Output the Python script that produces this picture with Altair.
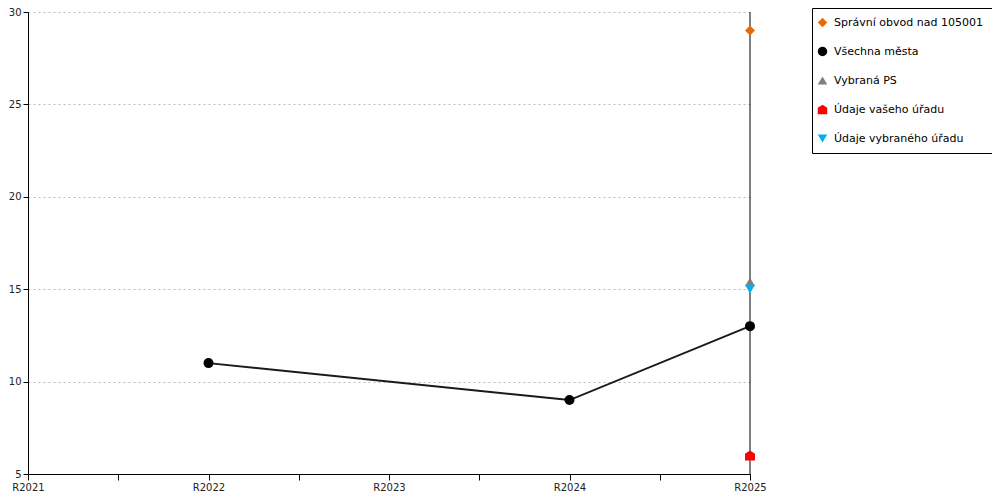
import altair as alt
import pandas as pd

# ---- data ----
series_names = [
    "Správní obvod nad 105001",
    "Všechna města",
    "Vybraná PS",
    "Údaje vašeho úřadu",
    "Údaje vybraného úřadu",
]
series_colors = ["#E36C0A", "#000000", "#808080", "#FF0000", "#00B0F0"]
house = "M0,-1L1,-0.35L1,1L-1,1L-1,-0.35Z"
series_shapes = ["diamond", "circle", "triangle-up", house, "triangle-down"]

mesta_years = [2022, 2024, 2025]
mesta_values = [11, 9, 13]

obvod_years = [2025]
obvod_values = [29]

ps_years = [2025]
ps_values = [15.4]

vas_years = [2025]
vas_values = [6]

vybrany_years = [2025]
vybrany_values = [15.0]

x_ticks = [2021, 2021.5, 2022, 2022.5, 2023, 2023.5, 2024, 2024.5, 2025]
y_ticks = [5, 10, 15, 20, 25, 30]
marker_year = [2025]

rows = []
for name, yrs, vals in [
    (series_names[0], obvod_years, obvod_values),
    (series_names[1], mesta_years, mesta_values),
    (series_names[2], ps_years, ps_values),
    (series_names[3], vas_years, vas_values),
    (series_names[4], vybrany_years, vybrany_values),
]:
    for yr, v in zip(yrs, vals):
        rows.append({"series": name, "year": yr, "value": v})
df = pd.DataFrame(rows)
line_df = df[df["series"] == series_names[1]]
rule_df = pd.DataFrame({"year": marker_year})

FONT = "DejaVu Sans"

x_scale = alt.Scale(domain=[2021, 2025], nice=False, zero=False)
x_enc = alt.X(
    "year:Q",
    scale=x_scale,
    axis=alt.Axis(
        values=x_ticks,
        labelExpr="datum.value % 1 == 0 ? 'R' + datum.value : ''",
        title=None,
        grid=False,
        domainColor="#000",
        tickColor="#000",
        tickSize=6,
        labelPadding=2,
        labelFont=FONT,
        labelFontSize=10,
        labelColor="#222",
        labelFlush=False,
        labelOverlap=False,
    ),
)
y_enc = alt.Y(
    "value:Q",
    scale=alt.Scale(domain=[5, 30], nice=False, zero=False),
    axis=alt.Axis(
        values=y_ticks,
        title=None,
        grid=True,
        gridColor="#bbbbbb",
        gridDash=[2, 3],
        domainColor="#000",
        tickColor="#000",
        tickSize=5,
        labelPadding=2,
        labelFont=FONT,
        labelFontSize=10,
        labelColor="#222",
    ),
)

rule = alt.Chart(rule_df).mark_rule(color="#000", strokeWidth=1).encode(
    x=alt.X("year:Q", scale=x_scale)
)

line = alt.Chart(line_df).mark_line(color="#1a1a1a", strokeWidth=2).encode(
    x=x_enc, y=y_enc
)

points = alt.Chart(df).mark_point(filled=True, opacity=1, size=100).encode(
    x=x_enc,
    y=y_enc,
    color=alt.Color(
        "series:N",
        scale=alt.Scale(domain=series_names, range=series_colors),
        legend=alt.Legend(
            title=None,
            orient="none",
            legendX=784,
            legendY=-4,
            strokeColor="#000",
            fillColor="#fff",
            padding=9,
            rowPadding=17,
            symbolSize=90,
            symbolOffset=-4,
            labelFont=FONT,
            labelFontSize=11,
            labelColor="#000",
            labelOffset=6,
            labelLimit=300,
        ),
    ),
    shape=alt.Shape(
        "series:N",
        scale=alt.Scale(domain=series_names, range=series_shapes),
    ),
)

chart = (
    alt.layer(rule, line, points)
    .properties(
        width=722,
        height=462,
        autosize="none",
        padding={"left": 20, "top": 4, "right": 242, "bottom": 18},
    )
    .configure_view(strokeWidth=0)
)

chart.save("out.html", embed_options={"renderer": "svg", "actions": False})
